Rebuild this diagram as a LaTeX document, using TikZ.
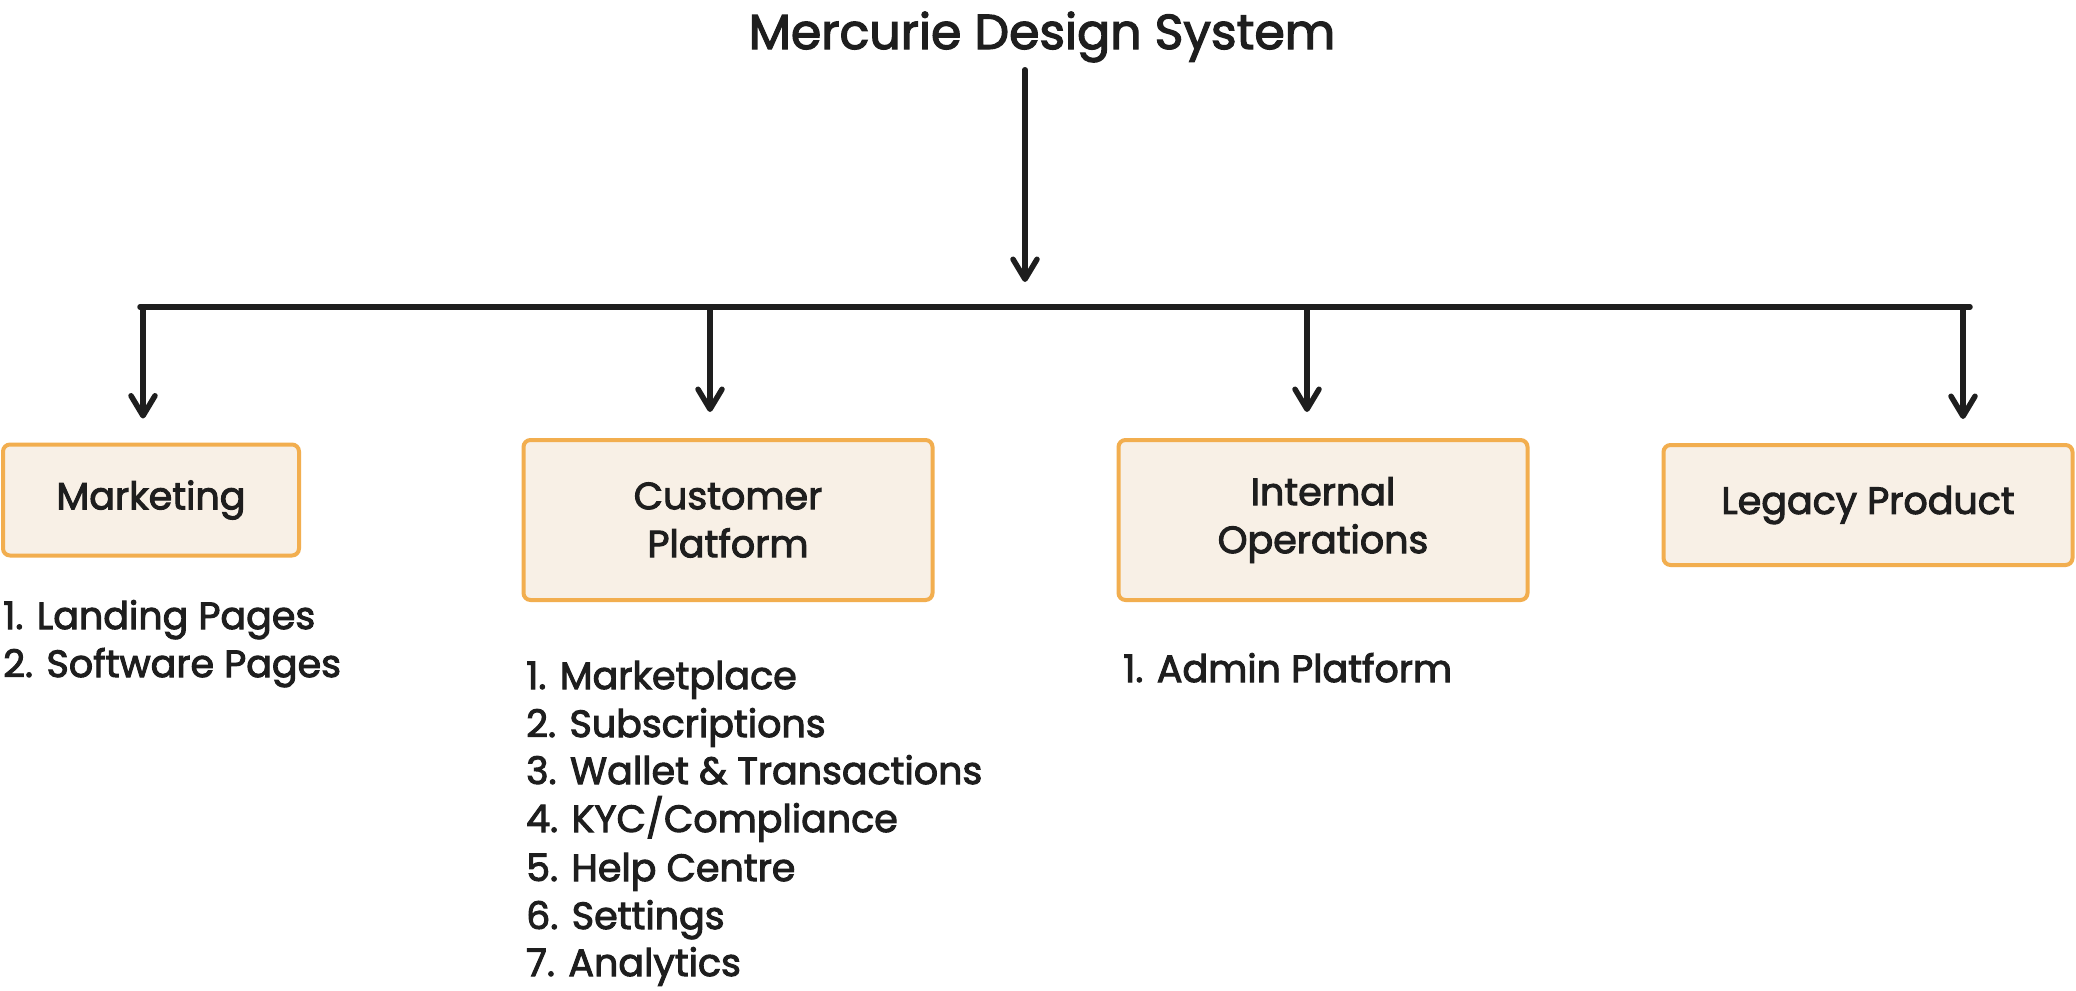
\documentclass[tikz,border=0pt]{standalone}
\usepackage{fontspec}
\setmainfont{Poppins}[FakeBold=2.6]
\usetikzlibrary{arrows.meta}
\definecolor{ink}{HTML}{1E1E1E}
\definecolor{boxline}{HTML}{F2AE4F}
\definecolor{boxfill}{HTML}{F8F0E6}
\begin{document}
\begin{tikzpicture}[x=1pt,y=-1pt,
  box/.style={draw=boxline, fill=boxfill, line width=4pt, rounded corners=7pt, text=ink,
    font=\fontsize{38}{48}\selectfont, align=center, inner sep=0pt},
  item/.style={anchor=base west, inner sep=0pt, text=ink, font=\fontsize{38}{48}\selectfont},
  conn/.style={draw=ink, line width=5.5pt, line cap=round},
  arr/.style={conn, -{Straight Barb[round,length=20pt,width=24pt]}}]
\useasboundingbox (0,0) rectangle (2076,990);
\fill[white] (0,0) rectangle (2076,990);

\node[text=ink, font=\fontsize{49}{56}\selectfont, anchor=base] (title) at (1042,49) {Mercurie Design System};

\node[box, minimum width=296pt, minimum height=111pt] (mk) at (151,500) {Marketing};
\node[box, minimum width=409pt, minimum height=160pt] (cp) at (728,520) {Customer\\Platform};
\node[box, minimum width=409pt, minimum height=160pt] (io) at (1323,520) {Internal\\Operations};
\node[box, minimum width=409pt, minimum height=120pt] (lp) at (1868,505) {Legacy Product};

\coordinate (hub) at (1025,307);
\coordinate (barL) at (140,307);
\coordinate (barR) at (1970,307);
\coordinate (d1) at (143,307);
\coordinate (d2) at (710,307);
\coordinate (d3) at (1307,307);
\coordinate (d4) at (1963,307);

\draw[arr, shorten <=4pt, shorten >=25pt] (title.south -| hub) -- (hub);
\draw[conn] (barL) -- (barR);
\draw[arr, shorten >=24pt] (d1) -- (d1 |- mk.north);
\draw[arr, shorten >=26pt] (d2) -- (d2 |- cp.north);
\draw[arr, shorten >=26pt] (d3) -- (d3 |- io.north);
\draw[arr, shorten >=24pt] (d4) -- (d4 |- lp.north);

\node[item] (mk1) at (3,629) {1. Landing Pages};
\node[item] (mk2) at (3,677) {2. Software Pages};

\node[item] (cp1) at (526,689) {1. Marketplace};
\node[item] (cp2) at (526,737) {2. Subscriptions};
\node[item] (cp3) at (526,784) {3. Wallet \& Transactions};
\node[item] (cp4) at (526,832) {4. KYC/Compliance};
\node[item] (cp5) at (526,881) {5. Help Centre};
\node[item] (cp6) at (526,929) {6. Settings};
\node[item] (cp7) at (526,976) {7. Analytics};

\node[item] (io1) at (1123,682) {1. Admin Platform};
\end{tikzpicture}
\end{document}
